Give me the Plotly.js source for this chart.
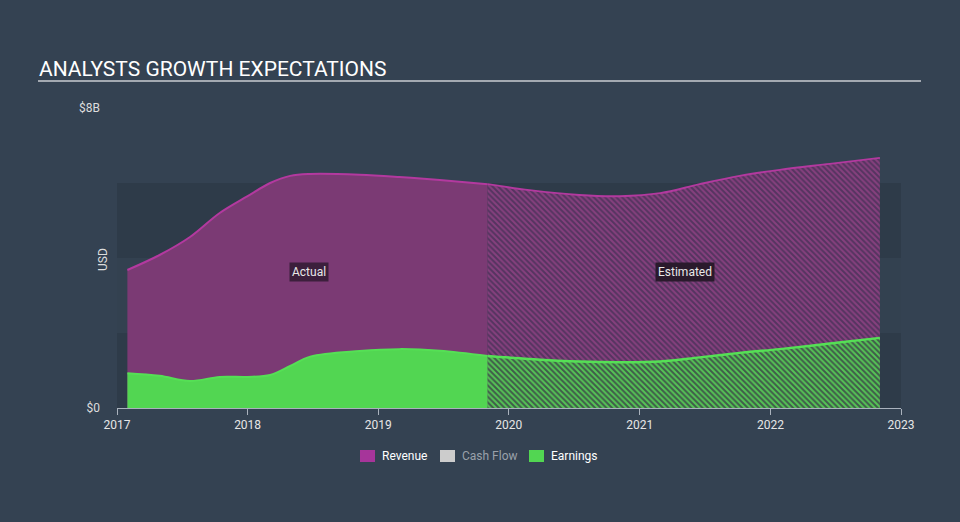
<!DOCTYPE html>
<html>
<head>
<meta charset="utf-8">
<script src="https://cdn.plot.ly/plotly-3.0.1.min.js"></script>
<style>
html,body{margin:0;padding:0;background:#344252;}
#chart{width:960px;height:522px;}
</style>
</head>
<body>
<div id="chart"></div>
<script>
// Data (values in USD billions)
const actualDates = ["2017-01-30","2017-04-30","2017-07-24","2017-10-15","2018-01-01","2018-03-05","2018-04-30","2018-06-25","2018-11-10","2019-03-01","2019-06-22","2019-11-03"];
const actualRevenue = [3.68,4.08,4.56,5.20,5.65,6.00,6.19,6.24,6.22,6.16,6.08,5.97];
const actualEarnings = [0.93,0.86,0.72,0.83,0.83,0.88,1.12,1.37,1.52,1.57,1.53,1.39];
const estDates = ["2019-11-03","2020-02-28","2020-07-16","2020-11-06","2021-02-27","2021-06-17","2021-10-07","2022-01-27","2022-06-16","2022-11-03"];
const estRevenue = [5.97,5.81,5.68,5.65,5.73,5.97,6.19,6.35,6.51,6.67];
const estEarnings = [1.39,1.31,1.24,1.22,1.24,1.35,1.47,1.57,1.72,1.87];
const legendNames = ["Revenue","Cash Flow","Earnings"];
const legendColors = ["#a6359a","#cccccc","#52d652"];
const legendTextColors = ["#ffffff","#9aa1aa","#ffffff"];
const yTickVals = [0,8];
const yTickText = ["$0","$8B"];
const xTickVals = ["2017-01-01","2018-01-01","2019-01-01","2020-01-01","2021-01-01","2022-01-01","2023-01-01"];
const xTickText = ["2017","2018","2019","2020","2021","2022","2023"];

const revLine = "#b3399f", revFill = "#7b3a74";
const earnLine = "#55e055", earnFill = "#52d652";

const traces = [
  {x: actualDates, y: actualRevenue, type:"scatter", mode:"lines", line:{shape:"spline", color:revLine, width:2, smoothing:1}, fill:"tozeroy", fillcolor:revFill, showlegend:false, hoverinfo:"skip"},
  {x: estDates, y: estRevenue, type:"scatter", mode:"lines", line:{shape:"spline", color:revLine, width:2, smoothing:1}, fill:"tozeroy", fillcolor:"#5e3463",
   fillpattern:{shape:"\\", bgcolor:"#553460", fgcolor:"#86407e", size:4, solidity:0.5}, showlegend:false, hoverinfo:"skip"},
  {x: actualDates, y: actualEarnings, type:"scatter", mode:"lines", line:{shape:"spline", color:earnLine, width:2, smoothing:1}, fill:"tozeroy", fillcolor:earnFill, showlegend:false, hoverinfo:"skip"},
  {x: estDates, y: estEarnings, type:"scatter", mode:"lines", line:{shape:"spline", color:earnLine, width:2.5, smoothing:1}, fill:"tozeroy", fillcolor:"#3b5e44",
   fillpattern:{shape:"\\", bgcolor:"#405c4a", fgcolor:"#55c455", size:4, solidity:0.5}, showlegend:false, hoverinfo:"skip"}
];

// pixel helpers -> paper coords (plot area x 117..901, y 108..408)
const px = v => (v - 117) / 784;
const py = v => (408 - v) / 300;

const legendSwatchX = [360, 440, 529];
const shapes = [
  {type:"rect", xref:"paper", yref:"y", x0:0, x1:1, y0:0, y1:2, fillcolor:"#2e3b49", line:{width:0}, layer:"below"},
  {type:"rect", xref:"paper", yref:"y", x0:0, x1:1, y0:2, y1:4, fillcolor:"#334150", line:{width:0}, layer:"below"},
  {type:"rect", xref:"paper", yref:"y", x0:0, x1:1, y0:4, y1:6, fillcolor:"#2e3b49", line:{width:0}, layer:"below"},
  {type:"line", xref:"paper", yref:"paper", x0:px(38), x1:px(921), y0:py(81), y1:py(81), line:{color:"#c8ccd2", width:1.5}}
];
const annotations = [
  {text:"ANALYSTS GROWTH EXPECTATIONS", xref:"paper", yref:"paper", x:px(37), y:py(69), xanchor:"left", yanchor:"middle", showarrow:false, font:{size:21, color:"#ffffff"}},
  {text:"USD", xref:"paper", yref:"paper", x:px(103), y:py(260), xanchor:"center", yanchor:"middle", textangle:-90, showarrow:false, font:{size:12, color:"#dddddd"}},
  {text:"Actual", xref:"x", yref:"y", x:"2018-06-21", y:3.64, showarrow:false, bgcolor:"#3c1f3c", font:{size:12, color:"#e8e8e8"}, borderpad:2},
  {text:"Estimated", xref:"x", yref:"y", x:"2021-05-08", y:3.64, showarrow:false, bgcolor:"#2a1a2c", font:{size:12, color:"#e8e8e8"}, borderpad:2}
];
legendNames.forEach((n, i) => {
  const x0 = legendSwatchX[i];
  shapes.push({type:"rect", xref:"paper", yref:"paper", x0:px(x0), x1:px(x0+15), y0:py(462), y1:py(450), fillcolor:legendColors[i], line:{width:0}});
  annotations.push({text:n, xref:"paper", yref:"paper", x:px(x0+20), y:py(456), xanchor:"left", yanchor:"middle", showarrow:false, font:{size:12, color:legendTextColors[i], family:"Roboto, sans-serif"}});
});

const layout = {
  width:960, height:522,
  paper_bgcolor:"#344252",
  plot_bgcolor:"rgba(0,0,0,0)",
  margin:{l:117, r:59, t:108, b:114},
  font:{family:"Roboto, 'Open Sans', sans-serif", color:"#e0e0e0"},
  showlegend:false,
  xaxis:{type:"date", range:["2017-01-01","2023-01-01"], tickvals:xTickVals, ticktext:xTickText, showgrid:false, zeroline:false,
    showline:true, linecolor:"#aab2bd", linewidth:1, ticks:"outside", ticklen:6, tickcolor:"#aab2bd",
    tickfont:{size:12, color:"#e6e6e6"}, fixedrange:true},
  yaxis:{range:[0,8], tickvals:yTickVals, ticktext:yTickText, showgrid:false, zeroline:false, showline:false,
    tickfont:{size:12, color:"#dddddd"}, ticks:"", ticklabelstandoff:16, fixedrange:true},
  shapes: shapes,
  annotations: annotations
};

Plotly.newPlot("chart", traces, layout, {displayModeBar:false, staticPlot:true});
</script>
</body>
</html>
